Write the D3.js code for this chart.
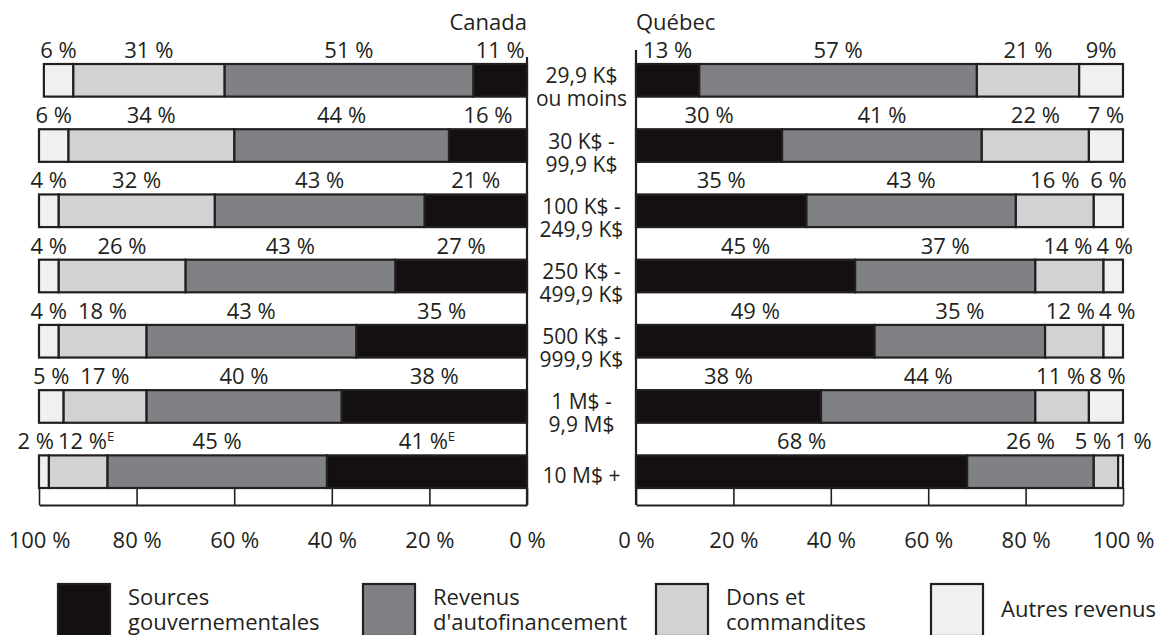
<!DOCTYPE html>
<html>
<head>
<meta charset="utf-8">
<script src="https://cdn.jsdelivr.net/npm/d3@7"></script>
<style>
  body { margin: 0; background: #fff; }
  svg { display: block; font-family: "Open Sans", sans-serif; }
</style>
</head>
<body>
<svg width="1166" height="635"></svg>
<script>
// categories (budget size), one entry per line of the label
const categories = [
  ["29,9 K$", "ou moins"],
  ["30 K$ -", "99,9 K$"],
  ["100 K$ -", "249,9 K$"],
  ["250 K$ -", "499,9 K$"],
  ["500 K$ -", "999,9 K$"],
  ["1 M$ -", "9,9 M$"],
  ["10 M$ +"]
];

const seriesNames = [
  ["Sources", "gouvernementales"],
  ["Revenus", "d'autofinancement"],
  ["Dons et", "commandites"],
  ["Autres revenus"]
];

// Canada
const canadaGouv   = [11, 16, 21, 27, 35, 38, 41];
const canadaAuto   = [51, 44, 43, 43, 43, 40, 45];
const canadaDons   = [31, 34, 32, 26, 18, 17, 12];
const canadaAutres = [6, 6, 4, 4, 4, 5, 2];

// Québec
const quebecGouv   = [13, 30, 35, 45, 49, 38, 68];
const quebecAuto   = [57, 41, 43, 37, 35, 44, 26];
const quebecDons   = [21, 22, 16, 14, 12, 11, 5];
const quebecAutres = [9, 7, 6, 4, 4, 8, 1];

// estimates flagged "E" : [series index, row index]
const canadaEstimates = [[0, 6], [2, 6]];

const tickValues = [0, 20, 40, 60, 80, 100];

const colors = ["#141011", "#808184", "#d1d2d4", "#f0f0f0"];
const ink = "#231f20";
const fontSize = 22;

const svg = d3.select("svg");

const y = d3.scaleBand()
  .domain(d3.range(categories.length))
  .range([64, 488])
  .paddingInner(0.5)
  .paddingOuter(0);

const xCanada = d3.scaleLinear().domain([0, 100]).range([527, 39]);
const xQuebec = d3.scaleLinear().domain([0, 100]).range([636, 1123]);

function drawPanel(series, x, estimates, name, nameAnchor, axisTop) {
  let g = svg.append("g");

  // stacked segments
  let rows = categories.map((c, i) => {
    let cum = 0;
    return series.map((s, k) => {
      let seg = {row: i, k: k, v: s[i], x0: cum, x1: Math.min(100, cum + s[i])};
      cum += s[i];
      return seg;
    });
  });

  rows.forEach(segs => {
    g.selectAll(null)
      .data(segs)
      .enter()
      .append("rect")
      .attr("x", d => Math.min(x(d.x0), x(d.x1)))
      .attr("width", d => Math.abs(x(d.x1) - x(d.x0)))
      .attr("y", d => y(d.row))
      .attr("height", y.bandwidth())
      .attr("fill", d => colors[d.k])
      .attr("stroke", ink)
      .attr("stroke-width", 2.2);

    // value labels above each segment
    let labels = segs.map(d => {
      let t = g.append("text")
        .attr("y", y(d.row) - 6)
        .attr("text-anchor", "middle")
        .attr("font-size", fontSize)
        .attr("fill", ink);
      let noSpace = (name === "Québec" && d.k === 3 && d.row === 0);
      t.append("tspan").text(d.v + (noSpace ? "%" : " %"));
      if (estimates.some(e => e[0] === d.k && e[1] === d.row)) {
        t.append("tspan")
          .attr("font-size", 13)
          .attr("dy", -8)
          .text("E");
      }
      return {node: t, cx: x((d.x0 + d.x1) / 2), w: t.node().getComputedTextLength()};
    });

    // push overlapping labels apart
    labels.sort((a, b) => a.cx - b.cx);
    for (let it = 0; it < 30; it++) {
      for (let j = 0; j < labels.length - 1; j++) {
        let a = labels[j], b = labels[j + 1];
        let overlap = (a.cx + a.w / 2 + 4) - (b.cx - b.w / 2);
        if (overlap > 0) {
          a.cx -= overlap / 2;
          b.cx += overlap / 2;
        }
      }
    }
    labels.forEach(l => l.node.attr("x", l.cx));
  });

  // vertical axis line at 0 %
  g.append("line")
    .attr("x1", x(0)).attr("x2", x(0))
    .attr("y1", axisTop).attr("y2", 505)
    .attr("stroke", ink)
    .attr("stroke-width", 2.2);

  // bottom axis, ticks pointing up into the box
  let axis = g.append("g")
    .attr("transform", "translate(0,505)")
    .call(d3.axisBottom(x)
      .tickValues(tickValues)
      .tickSizeInner(-17)
      .tickSizeOuter(0)
      .tickPadding(27)
      .tickFormat(d => d + " %"));
  axis.select(".domain").attr("stroke", ink).attr("stroke-width", 2.2);
  axis.selectAll(".tick line").attr("stroke", ink).attr("stroke-width", 1.6);
  axis.selectAll(".tick text")
    .attr("font-family", "Open Sans, sans-serif")
    .attr("font-size", fontSize)
    .attr("fill", ink);

  // panel title
  g.append("text")
    .attr("x", x(0))
    .attr("y", 30)
    .attr("text-anchor", nameAnchor)
    .attr("font-size", fontSize)
    .attr("fill", ink)
    .text(name);
}

drawPanel([canadaGouv, canadaAuto, canadaDons, canadaAutres], xCanada, canadaEstimates, "Canada", "end", 57);
drawPanel([quebecGouv, quebecAuto, quebecDons, quebecAutres], xQuebec, [], "Québec", "start", 50);

// category labels between the panels
let cx = (xCanada(0) + xQuebec(0)) / 2;
categories.forEach((lines, i) => {
  let mid = y(i) + y.bandwidth() / 2;
  let t = svg.append("text")
    .attr("text-anchor", "middle")
    .attr("font-size", 21)
    .attr("fill", ink);
  lines.forEach((l, j) => {
    t.append("tspan")
      .attr("x", cx)
      .attr("y", lines.length === 1 ? mid + 11 : mid + 3 + j * 23)
      .text(l);
  });
});

// legend
const legendX = [58, 363, 656, 931];
let legend = svg.append("g");
seriesNames.forEach((lines, k) => {
  legend.append("rect")
    .attr("x", legendX[k])
    .attr("y", 584)
    .attr("width", 52)
    .attr("height", 52)
    .attr("fill", colors[k])
    .attr("stroke", ink)
    .attr("stroke-width", 2.2);
  let t = legend.append("text")
    .attr("font-size", fontSize)
    .attr("fill", ink);
  lines.forEach((l, j) => {
    t.append("tspan")
      .attr("x", legendX[k] + 70)
      .attr("y", lines.length === 1 ? 617 : 605 + j * 25)
      .text(l);
  });
});
</script>
</body>
</html>
